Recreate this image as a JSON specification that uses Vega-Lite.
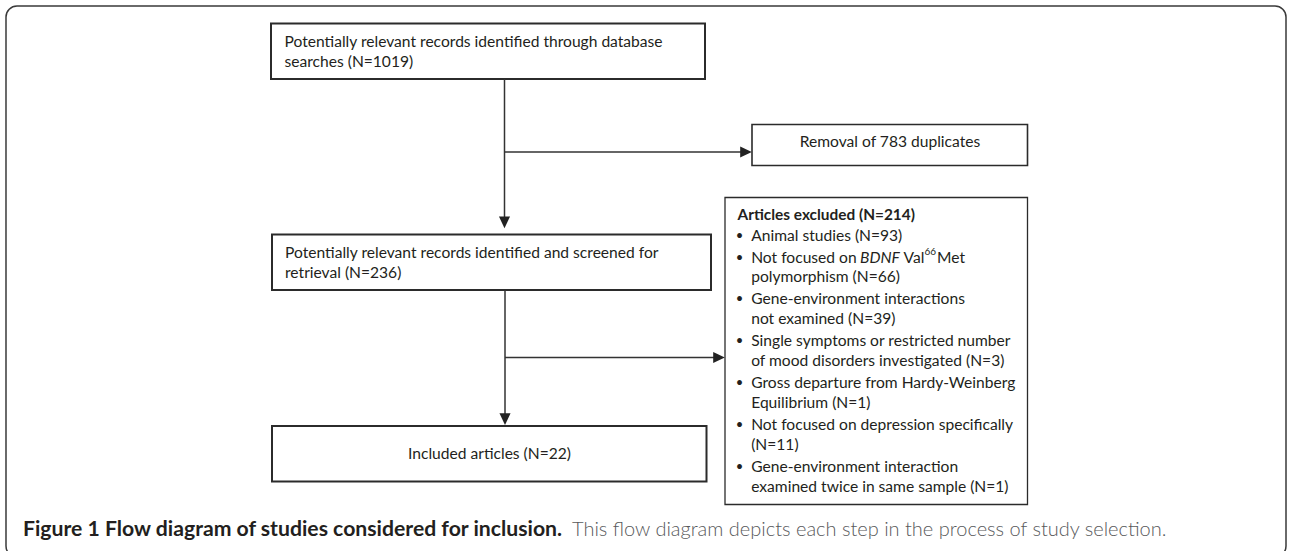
{
  "$schema": "https://vega.github.io/schema/vega-lite/v6.json",
  "width": 1290,
  "height": 551,
  "autosize": "none",
  "padding": 0,
  "background": "white",
  "config": {"view": {"stroke": null}},
  "datasets": {
    "frame": [{"x": 6, "x2": 1286, "y": 6, "y2": 557}],
    "mainboxes": [
      {"id": "search", "x": 271, "x2": 705, "y": 23.5, "y2": 79},
      {"id": "screened", "x": 272, "x2": 711, "y": 234.5, "y2": 290},
      {"id": "included", "x": 272, "x2": 706.5, "y": 426, "y2": 481.5}
    ],
    "removalbox": [{"id": "removal", "x": 752, "x2": 1027.5, "y": 124.5, "y2": 165.5}],
    "excludedbox": [{"id": "excluded", "x": 725, "x2": 1027.5, "y": 197.5, "y2": 504.5}],
    "connectors": [
      {"x": 504.5, "y": 79, "x2": 504.5, "y2": 218},
      {"x": 504.5, "y": 152, "x2": 742, "y2": 152},
      {"x": 505, "y": 290, "x2": 505, "y2": 415},
      {"x": 505, "y": 357.5, "x2": 715, "y2": 357.5}
    ],
    "arrowsdown": [{"x": 504.5, "y": 222.3}, {"x": 505, "y": 419.2}],
    "arrowsright": [{"x": 746, "y": 152}, {"x": 719, "y": 357.5}],
    "texts": [
      {"role": "body", "x": 284.5, "y": 41.7, "text": "Potentially relevant records identified through database"},
      {"role": "body", "x": 284.5, "y": 62, "text": "searches (N=1019)"},
      {"role": "body", "x": 285, "y": 253, "text": "Potentially relevant records identified and screened for"},
      {"role": "body", "x": 285, "y": 273, "text": "retrieval (N=236)"},
      {"role": "center", "x": 890, "y": 142, "text": "Removal of 783 duplicates"},
      {"role": "center", "x": 489.5, "y": 454, "text": "Included articles (N=22)"},
      {"role": "title", "x": 737.5, "y": 215, "text": "Articles excluded (N=214)"},
      {"role": "bullet", "x": 739.6, "y": 236, "text": "•"},
      {"role": "body", "x": 751.2, "y": 236, "text": "Animal studies (N=93)"},
      {"role": "bullet", "x": 739.6, "y": 257.7, "text": "•"},
      {"role": "body", "x": 751.2, "y": 257.7, "text": "Not focused on"},
      {"role": "italic", "x": 860, "y": 257.7, "text": "BDNF"},
      {"role": "body", "x": 903.5, "y": 257.7, "text": "Val"},
      {"role": "sup", "x": 924.5, "y": 252, "text": "66"},
      {"role": "body", "x": 937, "y": 257.7, "text": "Met"},
      {"role": "body", "x": 751.2, "y": 277.3, "text": "polymorphism (N=66)"},
      {"role": "bullet", "x": 739.6, "y": 299.3, "text": "•"},
      {"role": "body", "x": 751.2, "y": 299.3, "text": "Gene-environment interactions"},
      {"role": "body", "x": 751.2, "y": 319.3, "text": "not examined (N=39)"},
      {"role": "bullet", "x": 739.6, "y": 341, "text": "•"},
      {"role": "body", "x": 751.2, "y": 341, "text": "Single symptoms or restricted number"},
      {"role": "body", "x": 751.2, "y": 361, "text": "of mood  disorders investigated (N=3)"},
      {"role": "bullet", "x": 739.6, "y": 382.7, "text": "•"},
      {"role": "body", "x": 751.2, "y": 382.7, "text": "Gross departure from Hardy-Weinberg"},
      {"role": "body", "x": 751.2, "y": 403.3, "text": "Equilibrium (N=1)"},
      {"role": "bullet", "x": 739.6, "y": 425, "text": "•"},
      {"role": "body", "x": 751.2, "y": 425, "text": "Not focused on depression specifically"},
      {"role": "body", "x": 751.2, "y": 445, "text": "(N=11)"},
      {"role": "bullet", "x": 739.6, "y": 466.7, "text": "•"},
      {"role": "body", "x": 751.2, "y": 466.7, "text": "Gene-environment interaction"},
      {"role": "body", "x": 751.2, "y": 486.7, "text": "examined twice in same sample (N=1)"},
      {"role": "capbold", "x": 23, "y": 530, "text": "Figure 1 Flow diagram of studies considered for inclusion."},
      {"role": "capreg", "x": 572, "y": 530, "text": "This flow diagram depicts each step in the process of study selection."}
    ]
  },
  "layer": [
    {
      "data": {"name": "frame"},
      "mark": {"type": "rect", "fill": null, "stroke": "#3a3a3a", "strokeWidth": 1.5, "cornerRadius": 11, "clip": false},
      "encoding": {
        "x": {"field": "x", "type": "quantitative", "scale": {"domain": [0, 1290], "nice": false, "zero": false}, "axis": null},
        "x2": {"field": "x2"},
        "y": {"field": "y", "type": "quantitative", "scale": {"domain": [0, 551], "nice": false, "zero": false, "reverse": true}, "axis": null},
        "y2": {"field": "y2"}
      }
    },
    {
      "data": {"name": "mainboxes"},
      "mark": {"type": "rect", "fill": "white", "stroke": "#2b2b2b", "strokeWidth": 2},
      "encoding": {
        "x": {"field": "x", "type": "quantitative", "axis": null},
        "x2": {"field": "x2"},
        "y": {"field": "y", "type": "quantitative", "axis": null},
        "y2": {"field": "y2"}
      }
    },
    {
      "data": {"name": "removalbox"},
      "mark": {"type": "rect", "fill": "white", "stroke": "#2b2b2b", "strokeWidth": 1.6},
      "encoding": {
        "x": {"field": "x", "type": "quantitative", "axis": null},
        "x2": {"field": "x2"},
        "y": {"field": "y", "type": "quantitative", "axis": null},
        "y2": {"field": "y2"}
      }
    },
    {
      "data": {"name": "excludedbox"},
      "mark": {"type": "rect", "fill": "white", "stroke": "#2b2b2b", "strokeWidth": 1.3},
      "encoding": {
        "x": {"field": "x", "type": "quantitative", "axis": null},
        "x2": {"field": "x2"},
        "y": {"field": "y", "type": "quantitative", "axis": null},
        "y2": {"field": "y2"}
      }
    },
    {
      "data": {"name": "connectors"},
      "mark": {"type": "rule", "stroke": "#333333", "strokeWidth": 1.5},
      "encoding": {
        "x": {"field": "x", "type": "quantitative", "axis": null},
        "x2": {"field": "x2"},
        "y": {"field": "y", "type": "quantitative", "axis": null},
        "y2": {"field": "y2"}
      }
    },
    {
      "data": {"name": "arrowsdown"},
      "mark": {"type": "point", "shape": "M-0.95,-1L0.95,-1L0,1Z", "size": 136, "filled": true, "fill": "#222222", "stroke": null, "opacity": 1},
      "encoding": {
        "x": {"field": "x", "type": "quantitative", "axis": null},
        "y": {"field": "y", "type": "quantitative", "axis": null}
      }
    },
    {
      "data": {"name": "arrowsright"},
      "mark": {"type": "point", "shape": "M-1,-0.95L1,0L-1,0.95Z", "size": 136, "filled": true, "fill": "#222222", "stroke": null, "opacity": 1},
      "encoding": {
        "x": {"field": "x", "type": "quantitative", "axis": null},
        "y": {"field": "y", "type": "quantitative", "axis": null}
      }
    },
    {
      "data": {"name": "texts"},
      "transform": [{"filter": "datum.role === 'body'"}],
      "mark": {"type": "text", "align": "left", "baseline": "middle", "font": "Lato", "fontSize": 15.6, "color": "#231f20"},
      "encoding": {
        "x": {"field": "x", "type": "quantitative", "axis": null},
        "y": {"field": "y", "type": "quantitative", "axis": null},
        "text": {"field": "text"}
      }
    },
    {
      "data": {"name": "texts"},
      "transform": [{"filter": "datum.role === 'center'"}],
      "mark": {"type": "text", "align": "center", "baseline": "middle", "font": "Lato", "fontSize": 15.6, "color": "#231f20"},
      "encoding": {
        "x": {"field": "x", "type": "quantitative", "axis": null},
        "y": {"field": "y", "type": "quantitative", "axis": null},
        "text": {"field": "text"}
      }
    },
    {
      "data": {"name": "texts"},
      "transform": [{"filter": "datum.role === 'title'"}],
      "mark": {"type": "text", "align": "left", "baseline": "middle", "font": "Lato", "fontSize": 15.4, "fontWeight": "bold", "color": "#231f20"},
      "encoding": {
        "x": {"field": "x", "type": "quantitative", "axis": null},
        "y": {"field": "y", "type": "quantitative", "axis": null},
        "text": {"field": "text"}
      }
    },
    {
      "data": {"name": "texts"},
      "transform": [{"filter": "datum.role === 'bullet'"}],
      "mark": {"type": "text", "align": "center", "baseline": "middle", "font": "Lato", "fontSize": 13, "color": "#231f20"},
      "encoding": {
        "x": {"field": "x", "type": "quantitative", "axis": null},
        "y": {"field": "y", "type": "quantitative", "axis": null},
        "text": {"field": "text"}
      }
    },
    {
      "data": {"name": "texts"},
      "transform": [{"filter": "datum.role === 'italic'"}],
      "mark": {"type": "text", "align": "left", "baseline": "middle", "font": "Lato", "fontSize": 15.6, "fontStyle": "italic", "color": "#231f20"},
      "encoding": {
        "x": {"field": "x", "type": "quantitative", "axis": null},
        "y": {"field": "y", "type": "quantitative", "axis": null},
        "text": {"field": "text"}
      }
    },
    {
      "data": {"name": "texts"},
      "transform": [{"filter": "datum.role === 'sup'"}],
      "mark": {"type": "text", "align": "left", "baseline": "middle", "font": "Lato", "fontSize": 10, "color": "#231f20"},
      "encoding": {
        "x": {"field": "x", "type": "quantitative", "axis": null},
        "y": {"field": "y", "type": "quantitative", "axis": null},
        "text": {"field": "text"}
      }
    },
    {
      "data": {"name": "texts"},
      "transform": [{"filter": "datum.role === 'capbold'"}],
      "mark": {"type": "text", "align": "left", "baseline": "middle", "font": "Lato", "fontSize": 21.2, "fontWeight": "bold", "color": "#231f20"},
      "encoding": {
        "x": {"field": "x", "type": "quantitative", "axis": null},
        "y": {"field": "y", "type": "quantitative", "axis": null},
        "text": {"field": "text"}
      }
    },
    {
      "data": {"name": "texts"},
      "transform": [{"filter": "datum.role === 'capreg'"}],
      "mark": {"type": "text", "align": "left", "baseline": "middle", "font": "Lato", "fontSize": 20, "fontWeight": 300, "color": "#58595b"},
      "encoding": {
        "x": {"field": "x", "type": "quantitative", "axis": null},
        "y": {"field": "y", "type": "quantitative", "axis": null},
        "text": {"field": "text"}
      }
    }
  ]
}
